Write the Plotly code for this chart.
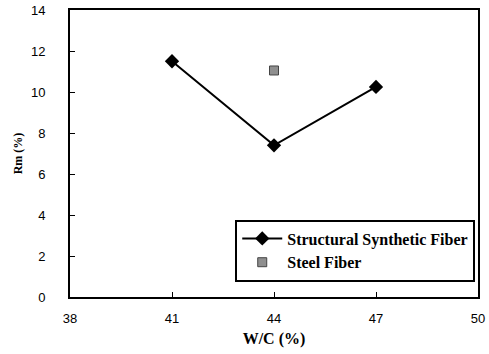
import plotly.graph_objects as go

wc_synthetic = [41, 44, 47]
rm_synthetic = [11.5, 7.4, 10.25]
wc_steel = [44]
rm_steel = [11.05]
x_ticks = [38, 41, 44, 47, 50]
y_ticks = [0, 2, 4, 6, 8, 10, 12, 14]

fig = go.Figure()
fig.add_trace(go.Scatter(
    x=wc_synthetic, y=rm_synthetic, mode="lines+markers",
    name="<b>Structural Synthetic Fiber</b>",
    line=dict(color="black", width=2),
    marker=dict(symbol="diamond", size=11, color="black"),
))
fig.add_trace(go.Scatter(
    x=wc_steel, y=rm_steel, mode="markers",
    name="<b>Steel Fiber</b>",
    marker=dict(symbol="square", size=9, color="#8f8f8f",
                line=dict(color="#444", width=1)),
))

fig.update_layout(
    template="none",
    width=489, height=354,
    margin=dict(l=70, r=11, t=10, b=57, autoexpand=False),
    paper_bgcolor="white", plot_bgcolor="white",
    showlegend=True,
    legend=dict(
        x=0.405, y=0.27, xanchor="left", yanchor="top",
        bgcolor="white", bordercolor="black", borderwidth=2,
        font=dict(family="Liberation Serif, Times New Roman, serif", size=16, color="black"),
        itemwidth=40, tracegroupgap=2,
    ),
    font=dict(family="Liberation Sans, Arial, sans-serif", color="black"),
)
fig.update_xaxes(
    range=[38, 50], tickvals=x_ticks, ticktext=[str(v) for v in x_ticks],
    showgrid=False, zeroline=False, automargin=False,
    showline=True, linecolor="black", linewidth=2, mirror=True,
    ticks="inside", ticklen=5, tickcolor="black", tickwidth=1,
    tickfont=dict(size=13), ticklabeloverflow="allow",
    ticklabelstandoff=8,
    title=dict(text="<b>W/C (%)</b>", font=dict(family="Liberation Serif, Times New Roman, serif", size=16), standoff=8),
)
fig.update_yaxes(
    range=[0, 14], tickvals=y_ticks,
    showgrid=False, zeroline=False, automargin=False,
    showline=True, linecolor="black", linewidth=2, mirror=True,
    ticks="inside", ticklen=5, tickcolor="black", tickwidth=1,
    tickfont=dict(size=13), ticklabelstandoff=20,
    title=dict(text="<b>Rm (%)</b>", font=dict(family="Liberation Serif, Times New Roman, serif", size=12), standoff=6),
)

fig.write_html("out.html", config={"displayModeBar": False},
               post_script="document.body.style.margin='0px';")
